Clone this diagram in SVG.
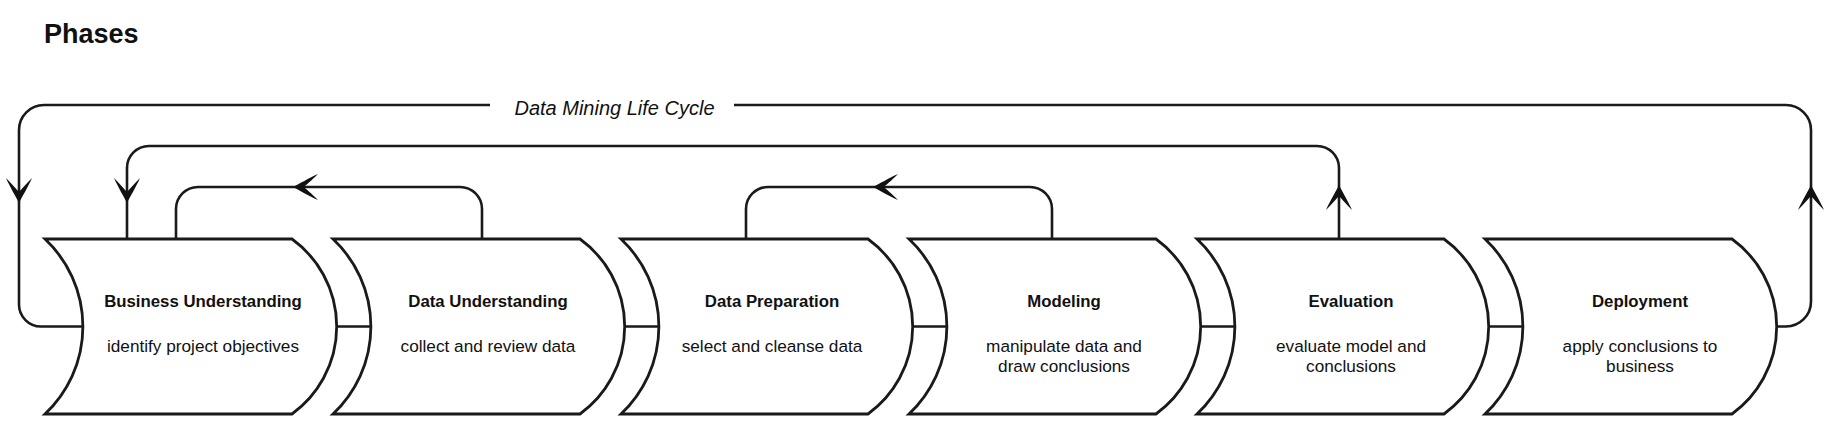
<svg xmlns="http://www.w3.org/2000/svg" width="1836" height="432" viewBox="0 0 1836 432">
<style>
.title{font-family:"Liberation Sans",Arial,sans-serif;font-weight:bold;font-size:27px;fill:#111}
.cycle{font-family:"Liberation Sans",Arial,sans-serif;font-style:italic;font-size:20px;fill:#111}
.nt{font-family:"Liberation Sans",Arial,sans-serif;font-weight:bold;font-size:16.8px;fill:#111;text-anchor:middle}
.ns{font-family:"Liberation Sans",Arial,sans-serif;font-size:17.2px;fill:#111;text-anchor:middle}
.shape{fill:#fff;stroke:#1a1a1a;stroke-width:2.8;stroke-linejoin:miter}
.conn{fill:none;stroke:#1a1a1a;stroke-width:2.6}
.ah{fill:#111;stroke:none}
</style>
<defs>
<path id="nodeShape" d="M0,0 L247,0 A108,108 0 0 1 247,175 L0,175 A120,120 0 0 0 0,0 Z"/>
<path id="arrow" d="M0,0 C-6,-3 -16,-9 -25,-13 C-18,-6 -14,-3 -11,0 C-14,3 -18,6 -25,13 C-16,9 -6,3 0,0 Z"/>
</defs>
<rect width="1836" height="432" fill="#fff"/>
<text class="title" x="44" y="43">Phases</text>
<g id="connectors">
<path class="conn" d="M1770,326.5 L1786,326.5 A25,25 0 0 0 1811,301.5 L1811,130 A25,25 0 0 0 1786,105 L734,105"/>
<path class="conn" d="M490,105 L44,105 A25,25 0 0 0 19,130 L19,304.5 A22,22 0 0 0 41,326.5 L86,326.5"/>
<path class="conn" d="M1339,241 L1339,168 A22,22 0 0 0 1317,146 L149,146 A22,22 0 0 0 127,168 L127,241"/>
<path class="conn" d="M482,241 L482,209 A22,22 0 0 0 460,187 L198,187 A22,22 0 0 0 176,209 L176,241"/>
<path class="conn" d="M1052,241 L1052,209 A22,22 0 0 0 1030,187 L768,187 A22,22 0 0 0 746,209 L746,241"/>
<path class="conn" d="M334,326.5 L374,326.5 M622,326.5 L662,326.5 M910,326.5 L950,326.5 M1198,326.5 L1238,326.5 M1486,326.5 L1526,326.5"/>
<use href="#arrow" class="ah" transform="translate(19,203) rotate(90)"/>
<use href="#arrow" class="ah" transform="translate(127,203) rotate(90)"/>
<use href="#arrow" class="ah" transform="translate(1339,185) rotate(-90)"/>
<use href="#arrow" class="ah" transform="translate(1811,185) rotate(-90)"/>
<use href="#arrow" class="ah" transform="translate(293,187) rotate(180)"/>
<use href="#arrow" class="ah" transform="translate(873,187) rotate(180)"/>
<text class="cycle" x="614.5" y="115" text-anchor="middle">Data Mining Life Cycle</text>
</g>
<g id="n1">
<use href="#nodeShape" class="shape" transform="translate(45,239)"/>
<text class="nt" x="203" y="307">Business Understanding</text>
<text class="ns" x="203" y="351.5">identify project objectives</text>
</g>
<g id="n2">
<use href="#nodeShape" class="shape" transform="translate(333,239)"/>
<text class="nt" x="488" y="307">Data Understanding</text>
<text class="ns" x="488" y="351.5">collect and review data</text>
</g>
<g id="n3">
<use href="#nodeShape" class="shape" transform="translate(621,239)"/>
<text class="nt" x="772" y="307">Data Preparation</text>
<text class="ns" x="772" y="351.5">select and cleanse data</text>
</g>
<g id="n4">
<use href="#nodeShape" class="shape" transform="translate(909,239)"/>
<text class="nt" x="1064" y="307">Modeling</text>
<text class="ns" x="1064" y="351.5">manipulate data and</text>
<text class="ns" x="1064" y="371.5">draw conclusions</text>
</g>
<g id="n5">
<use href="#nodeShape" class="shape" transform="translate(1197,239)"/>
<text class="nt" x="1351" y="307">Evaluation</text>
<text class="ns" x="1351" y="351.5">evaluate model and</text>
<text class="ns" x="1351" y="371.5">conclusions</text>
</g>
<g id="n6">
<use href="#nodeShape" class="shape" transform="translate(1485,239)"/>
<text class="nt" x="1640" y="307">Deployment</text>
<text class="ns" x="1640" y="351.5">apply conclusions to</text>
<text class="ns" x="1640" y="371.5">business</text>
</g>
</svg>
